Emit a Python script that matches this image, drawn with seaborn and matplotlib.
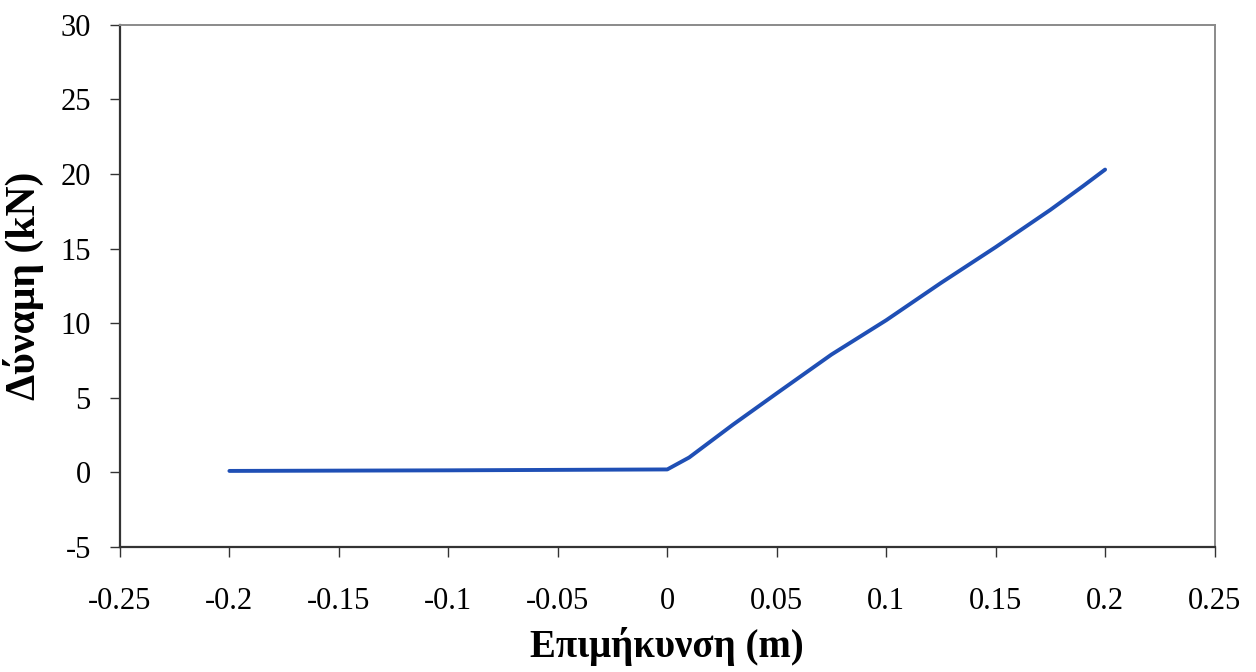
import matplotlib
matplotlib.use("Agg")
import matplotlib.pyplot as plt
import seaborn as sns
import pandas as pd

# Data
elongation_m = [-0.2, -0.15, -0.1, -0.05, 0.0, 0.01, 0.03, 0.05, 0.075, 0.1, 0.125, 0.15, 0.175, 0.19, 0.2]
force_kN =     [0.1, 0.12, 0.14, 0.17, 0.2, 1.0, 3.2, 5.3, 7.9, 10.2, 12.7, 15.1, 17.6, 19.2, 20.3]

x_ticks = [-0.25, -0.2, -0.15, -0.1, -0.05, 0, 0.05, 0.1, 0.15, 0.2, 0.25]
x_tick_labels = ["-0.25", "-0.2", "-0.15", "-0.1", "-0.05", "0", "0.05", "0.1", "0.15", "0.2", "0.25"]
y_ticks = [-5, 0, 5, 10, 15, 20, 25, 30]
y_tick_labels = ["-5", "0", "5", "10", "15", "20", "25", "30"]

df = pd.DataFrame({"x": elongation_m, "y": force_kN})

sns.set_theme(style="white")
plt.rcParams["font.family"] = ["Liberation Serif", "DejaVu Serif"]
plt.rcParams["axes.unicode_minus"] = False

fig = plt.figure(figsize=(12.56, 6.72), dpi=100)
ax = fig.add_axes([0.0955, 0.186, 0.8715, 0.777])

sns.lineplot(data=df, x="x", y="y", ax=ax, sort=False, color="#1f4fb5", linewidth=2.8)

ax.set_xlim(-0.25, 0.25)
ax.set_ylim(-5, 30)
ax.set_xticks(x_ticks)
ax.set_xticklabels(x_tick_labels)
ax.set_yticks(y_ticks)
ax.set_yticklabels(y_tick_labels)

ax.tick_params(axis="both", which="both", direction="out", length=7, width=1.0,
               color="#333333", labelsize=22, labelcolor="black")
ax.tick_params(axis="x", pad=22, bottom=True)
ax.tick_params(axis="y", pad=14, left=True)

for side in ["left", "bottom"]:
    ax.spines[side].set_color("#333333")
    ax.spines[side].set_linewidth(1.6)
for side in ["top", "right"]:
    ax.spines[side].set_color("#8a8a8a")
    ax.spines[side].set_linewidth(1.4)

ax.set_xlabel("Επιμήκυνση (m)", fontsize=28, fontweight="bold", labelpad=8, color="black")
ax.set_ylabel("Δύναμη (kN)", fontsize=30, fontweight="bold", labelpad=12, color="black")

fig.savefig("out.png", dpi=100, facecolor="white")
